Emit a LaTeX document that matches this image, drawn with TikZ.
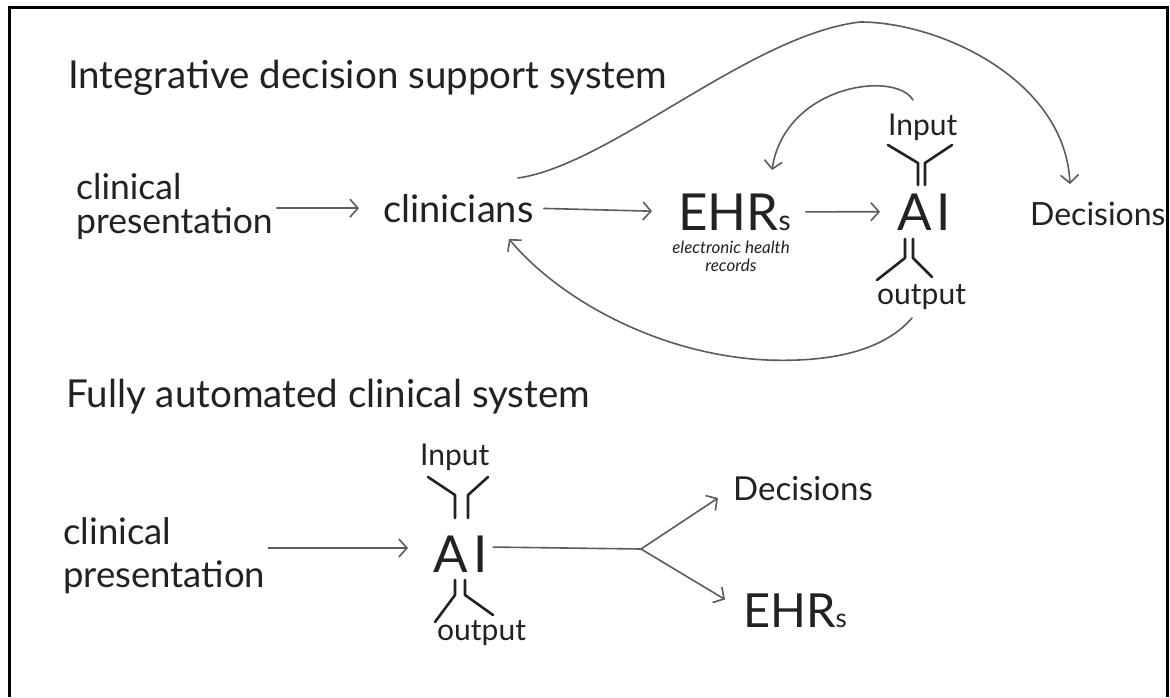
\documentclass[tikz,border=0pt]{standalone}
\usepackage{fontspec}
\setmainfont{Lato}
\usetikzlibrary{arrows.meta}
\definecolor{ink}{HTML}{222222}
\definecolor{lineg}{HTML}{5C5C5C}
\begin{document}
\begin{tikzpicture}[x=1pt,y=-1pt,
  txt/.style={inner sep=0pt, text=ink},
  title/.style={txt, font=\fontsize{38.5}{42}\selectfont},
  mid/.style={txt, font=\fontsize{38}{42}\selectfont},
  big/.style={txt, font=\fontsize{51}{56}\selectfont},
  small/.style={txt, font=\fontsize{30}{34}\selectfont},
  conn/.style={draw=lineg, line width=1.6pt, line cap=round,
    -{Straight Barb[length=8pt,width=18pt,line width=1.6pt]}},
  plain/.style={draw=lineg, line width=1.6pt, line cap=round},
  glyph/.style={draw=ink, line width=2.6pt, line cap=round, line join=round}]
\useasboundingbox (0,0) rectangle (1170,697);
\fill[white] (0,0) rectangle (1170,697);
\draw[line width=3pt] (9,697) -- (9,7) -- (1167,7) -- (1167,697);

% ---- Integrative decision support system ----
\node[title, anchor=base west] (t1) at (68,88) {Integrative decision support system};
\node[txt, anchor=west, align=left, font=\fontsize{35.5}{34}\selectfont] (cp1) at (76,206) {clinical\\presentation};
\node[mid, anchor=base west] (clin) at (383,222) {clinicians};
\node[big, anchor=base west] (ehr1) at (678,230) {EHR{\fontsize{28}{28}\selectfont s}};
\node[txt, anchor=north, align=center, font=\fontsize{17}{18}\selectfont\itshape] (ehrsub) at (731,241) {electronic health\\records};
\node[big, anchor=base west] (ai1) at (897,230) {A\kern5pt I};
\node[small, anchor=base west] (in1) at (888,135) {Input};
\node[small, anchor=base west] (out1) at (877,304) {output};
\node[txt, anchor=base west, font=\fontsize{32}{36}\selectfont] (dec1) at (1030,225) {Decisions};

\draw[glyph] (888,145) -- (918,163) -- (918,185);
\draw[glyph] (952,145) -- (925,163) -- (925,185);
\draw[glyph] (905,239) -- (905,258) -- (877,280);
\draw[glyph] (913,239) -- (913,258) -- (932,277);

\draw[conn, shorten <=4pt, shorten >=24pt] (cp1.east |- clin.west) -- (clin.west);
\draw[conn, shorten <=10pt, shorten >=26pt] (clin.east) -- (ehr1.west);
\draw[conn, shorten <=15pt, shorten >=17pt] (ehr1.east) -- (ai1.west);

\coordinate (c1a) at (518,178);
\coordinate (c1b) at (860,22);
\coordinate (c1c) at (1070,184);
\draw[conn] (c1a) .. controls (610,165) and (750,35) .. (c1b)
  .. controls (940,22) and (1065,80) .. (c1c);

\coordinate (c2a) at (913,100);
\coordinate (c2b) at (772,170);
\draw[conn] (c2a) .. controls (895,70) and (785,85) .. (c2b);

\coordinate (c3a) at (912,318);
\coordinate (c3b) at (767,360);
\coordinate (c3c) at (509,239);
\draw[conn] (c3a) .. controls (880,355) and (820,362) .. (c3b)
  .. controls (660,355) and (560,300) .. (c3c);

% ---- Fully automated clinical system ----
\node[title, anchor=base west] (t2) at (66,407) {Fully automated clinical system};
\node[txt, anchor=west, align=left, font=\fontsize{36.5}{43}\selectfont] (cp2) at (63,556) {clinical\\presentation};
\node[big, anchor=base west] (ai2) at (433,572) {A\kern6pt I};
\node[small, anchor=base west] (in2) at (420,465) {Input};
\node[small, anchor=base west] (out2) at (437,640) {output};
\node[txt, anchor=base west, font=\fontsize{33}{36}\selectfont] (dec2) at (733,500) {Decisions};
\node[txt, anchor=base west, font=\fontsize{47}{50}\selectfont] (ehr2) at (743,627) {EHR{\fontsize{26}{26}\selectfont s}};

\draw[glyph] (428,477) -- (455,495) -- (455,518);
\draw[glyph] (488,477) -- (468,495) -- (468,518);
\draw[glyph] (455,580) -- (455,595) -- (435,622);
\draw[glyph] (465,580) -- (465,595) -- (493,615);

\coordinate (j) at (641,549);
\draw[conn, shorten <=3pt, shorten >=25pt] (cp2.east |- 0,548) -- (ai2.west |- 0,548);
\draw[plain, shorten <=5pt] (ai2.east |- 0,547) -- (j);
\draw[conn, shorten >=18pt] (j) -- (dec2.west);
\draw[conn, shorten >=21pt] (j) -- (ehr2.west);
\end{tikzpicture}
\end{document}
